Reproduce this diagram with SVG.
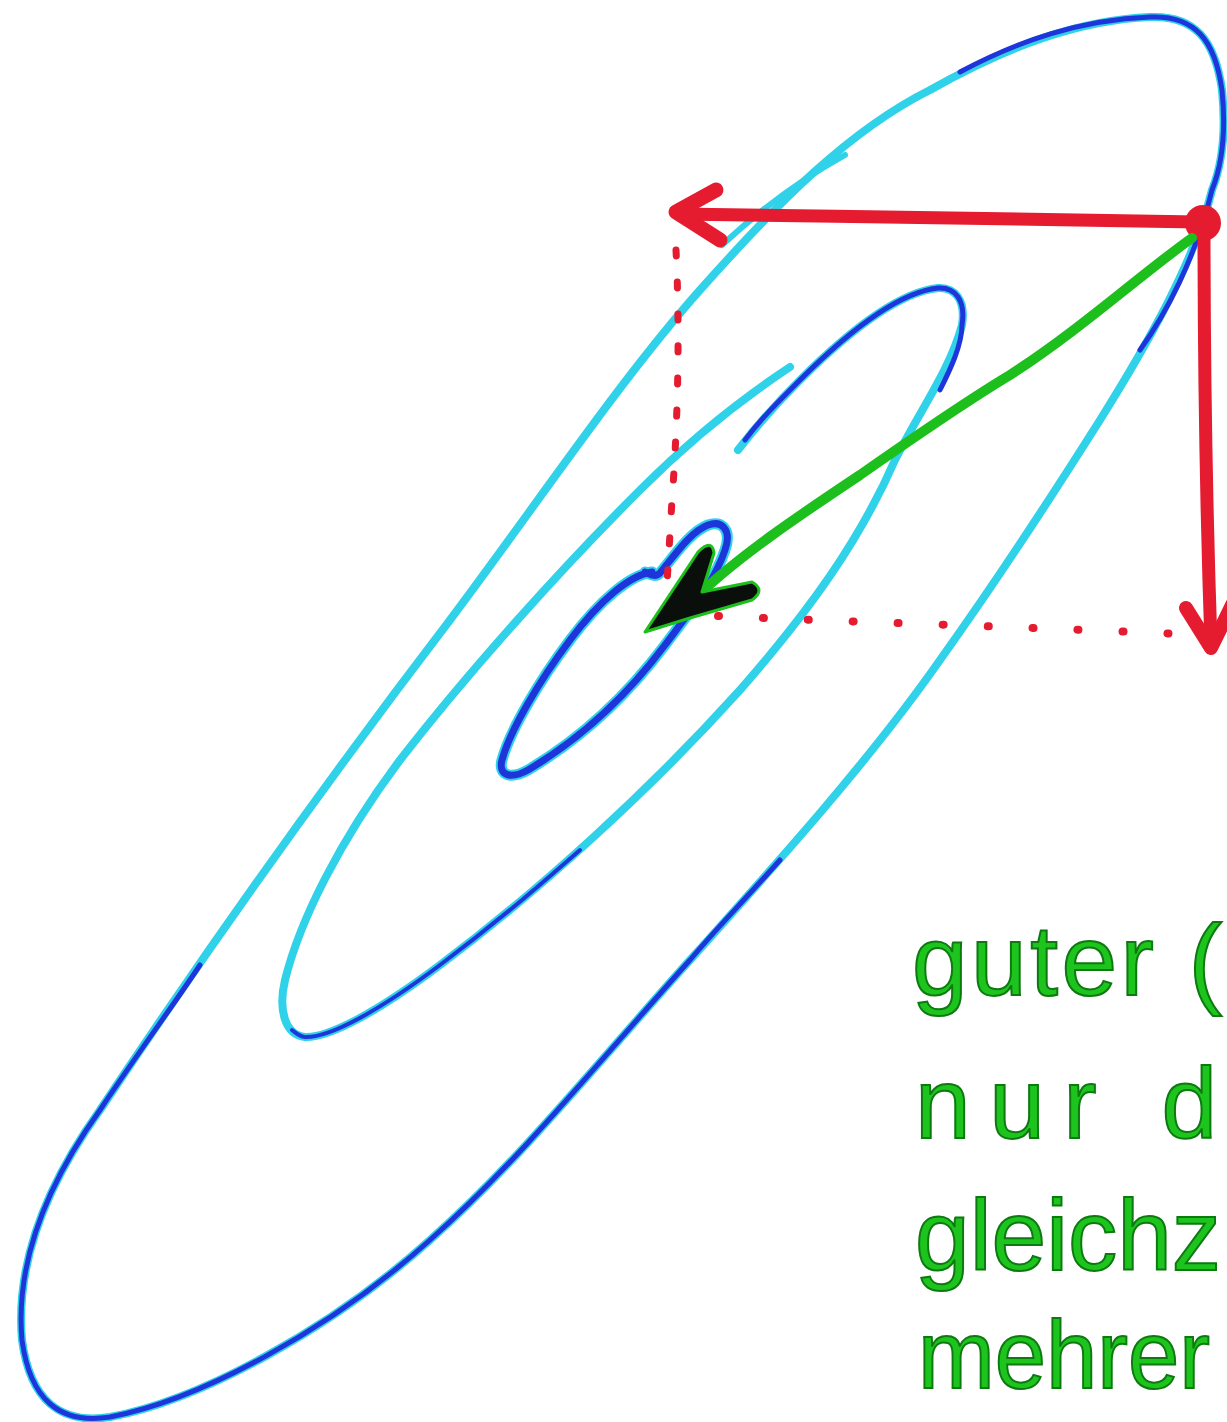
<svg xmlns="http://www.w3.org/2000/svg" width="1227" height="1422" viewBox="0 0 1227 1422">
<style>
.cy{fill:none;stroke:#2fd2e8;stroke-width:8;stroke-linecap:round;stroke-linejoin:round}
.bl{fill:none;stroke:#1f35dc;stroke-width:5;stroke-linecap:round;stroke-linejoin:round}
.red{fill:none;stroke:#e51b30;stroke-linecap:round;stroke-linejoin:round}
.txt{font-family:"Liberation Sans","DejaVu Sans",sans-serif;font-size:100px;fill:#1ec41e;stroke:#0d7a10;stroke-width:2}
</style>
<rect width="1227" height="1422" fill="#ffffff"/>
<g id="outer-contour">
<path class="cy" d="M1212,190 C1195,260 1150,340 1100,420 C1040,515 990,590 940,660 C870,760 780,860 690,960 C600,1060 520,1160 430,1240 C330,1330 200,1400 110,1417 C60,1425 30,1400 22,1340 C15,1260 50,1180 100,1110 C200,960 320,790 450,620 C540,500 620,380 700,290 C780,200 850,130 930,90 C1010,45 1080,20 1150,17 C1195,15 1215,40 1222,90 C1226,130 1222,165 1212,190 Z"/>
<path class="cy" style="stroke-width:6" d="M722,245 C760,210 800,180 845,155"/>
<path class="bl" d="M960,72 C1020,40 1080,20 1150,17 C1195,15 1215,40 1222,90 C1226,130 1222,165 1212,190 C1195,260 1165,315 1140,350"/>
<path class="bl" d="M780,860 C740,905 715,930 690,960 C600,1060 520,1160 430,1240 C330,1330 200,1400 110,1417 C60,1425 30,1400 22,1340 C15,1260 50,1180 100,1110 C140,1050 170,1010 200,965"/>
</g>
<g id="middle-contour">
<path class="cy" d="M790,367 C740,400 690,440 640,490 C560,570 470,670 400,760 C340,840 300,920 285,980 C278,1010 285,1035 305,1037 C330,1038 380,1010 440,965 C540,890 650,790 740,690 C810,610 860,540 895,460 C920,410 950,370 962,325 C966,300 955,287 938,288 C900,292 850,330 800,380 C775,405 755,428 738,450"/>
<path class="bl" style="stroke-width:4" d="M292,1030 C300,1037 305,1037 305,1037 C330,1038 380,1010 440,965 C500,920 540,885 580,850"/>
<path class="bl" d="M940,390 C950,370 962,345 962,325 C966,300 955,287 938,288 C900,292 850,330 800,380 C775,405 760,420 745,440"/>
</g>
<g id="inner-contour">
<path class="cy" style="stroke-width:11" d="M652,572 C630,575 600,600 570,640 C540,680 510,730 502,760 C498,775 510,780 528,770 C570,745 620,705 665,645 C695,605 715,580 725,550 C732,530 722,520 708,525 C690,532 675,555 660,573 C655,578 650,574 645,572"/>
<path class="bl" style="stroke-width:7" d="M652,572 C630,575 600,600 570,640 C540,680 510,730 502,760 C498,775 510,780 528,770 C570,745 620,705 665,645 C695,605 715,580 725,550 C732,530 722,520 708,525 C690,532 675,555 660,573 C655,578 650,574 645,572"/>
</g>
<g id="connectors">
<g id="red-dotted">
<path class="red" style="stroke-width:7" stroke-dasharray="6 26" d="M676,250 C680,330 678,420 672,500 L666,600"/>
<path class="red" style="stroke-width:8" stroke-dasharray="1 44" d="M718,616 C850,622 1000,626 1180,634"/>
</g>
<g id="red-horizontal-arrow">
<path class="red" style="stroke-width:13" d="M1198,222 C1000,219 850,216 678,214"/>
<path class="red" style="stroke-width:15" d="M716,190 L676,212 L720,240"/>
</g>
<g id="red-vertical-arrow">
<path class="red" style="stroke-width:13" d="M1204,225 C1204,350 1206,500 1211,645"/>
<path class="red" style="stroke-width:14" d="M1186,608 L1211,648 L1232,605"/>
</g>
<circle id="point" cx="1203" cy="223" r="18" fill="#e51b30"/>
<g id="green-arrow">
<path fill="none" stroke="#1dbf1d" stroke-width="10" stroke-linecap="round" d="M1192,238 C1140,275 1080,330 1010,375 C960,405 910,440 860,475 C800,515 740,555 695,598"/>
<path fill="#0b0f0b" stroke="#1dbf1d" stroke-width="3" stroke-linejoin="round" d="M645,632 L698,552 Q712,538 714,553 L702,592 L752,582 Q766,590 752,600 L690,618 Z"/>
</g>
</g>
<g id="label">
<text class="txt" x="912" y="995" textLength="310" lengthAdjust="spacing">guter (</text>
<text class="txt" x="915" y="1138" textLength="302" lengthAdjust="spacing">nur d</text>
<text class="txt" x="915" y="1270" textLength="306" lengthAdjust="spacingAndGlyphs">gleichz</text>
<text class="txt" x="918" y="1388" style="font-size:96px" textLength="292" lengthAdjust="spacingAndGlyphs">mehrer</text>
</g>
</svg>
